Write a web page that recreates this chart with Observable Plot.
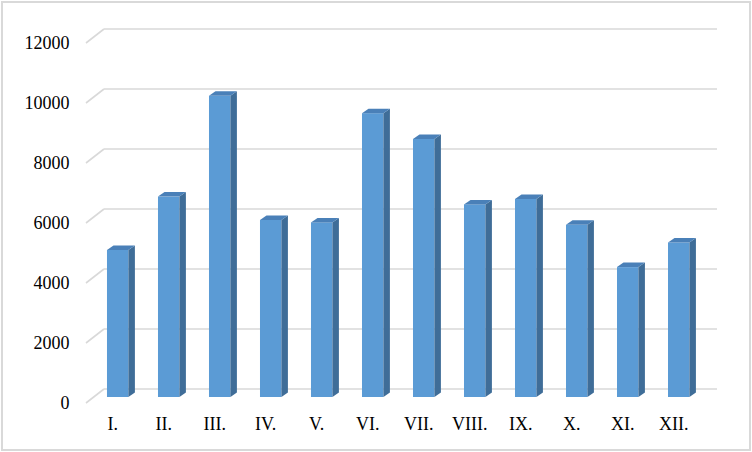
<!DOCTYPE html>
<html><head><meta charset="utf-8">
<script src="https://cdn.jsdelivr.net/npm/d3@7"></script>
<script src="https://cdn.jsdelivr.net/npm/@observablehq/plot@0.6"></script>
<style>
body{margin:0;background:#fff}
#chart svg{display:block;outline:2px solid #d9d9d9;outline-offset:-3px}
</style>
</head><body><div id="chart"></div>
<script>
const months = ["I.","II.","III.","IV.","V.","VI.","VII.","VIII.","IX.","X.","XI.","XII."];
const values = [4900,6680,10040,5900,5820,9460,8600,6420,6600,5740,4330,5150];
const yTicks = [0,2000,4000,6000,8000,10000,12000];
const data = months.map((m,i)=>({month:m, value:values[i]}));

const W = 752, H = 452;
const ML = 77.4, MR = 33, MT = 37, MB = 55;
// perspective offsets (px)
const backDy = -8;                   // back wall relative to bar front plane
const floorDx = 18, floorDy = 14;    // depth of floor diagonal
const barDx = 6.5, barDy = 4.5;      // bar depth

function grid(index, scales, vals, dims){
  const {x, y} = scales;
  const g = d3.create("svg:g");
  const left = x(months[0]) - 3;
  const right = dims.width - dims.marginRight - 2;
  for (const t of yTicks){
    const yb = y(t) + backDy;
    g.append("line").attr("x1",left).attr("x2",right).attr("y1",yb).attr("y2",yb)
      .attr("stroke","#d9d9d9").attr("stroke-width",1.6);
    g.append("line").attr("x1",left-floorDx).attr("y1",yb+floorDy).attr("x2",left).attr("y2",yb)
      .attr("stroke","#d9d9d9").attr("stroke-width",1.6);
  }
  return g.node();
}

function bars3d(index, scales, vals, dims){
  const {x, y} = scales;
  const w = x.bandwidth();
  const g = d3.create("svg:g");
  for (const d of data){
    const xs = x(d.month), yt = y(d.value), yb = y(0);
    g.append("rect").attr("x",xs).attr("y",yt).attr("width",w).attr("height",yb-yt).attr("fill","#5b9bd5");
    g.append("polygon").attr("points",[[xs+w,yt],[xs+w+barDx,yt-barDy],[xs+w+barDx,yb-barDy],[xs+w,yb]].map(p=>p.join(",")).join(" "))
      .attr("fill","#3f6d98");
    g.append("polygon").attr("points",[[xs,yt],[xs+barDx,yt-barDy],[xs+w+barDx,yt-barDy],[xs+w,yt]].map(p=>p.join(",")).join(" "))
      .attr("fill","#4a80b8");
  }
  return g.node();
}

const chart = Plot.plot({
  width: W, height: H,
  marginLeft: ML, marginRight: MR, marginTop: MT, marginBottom: MB,
  style: {fontFamily: "'Liberation Serif','Times New Roman',serif", fontSize: "18px", color: "#000", background: "#fff"},
  x: {type: "band", domain: months, padding: 0.58, round: false},
  y: {type: "linear", domain: [0,12000]},
  marks: [
    grid,
    bars3d,
    Plot.axisY(yTicks, {tickSize:0, tickPadding:8.5, dy:6, tickFormat: d => String(d), label:null, fill:"#000"}),
    Plot.axisX({tickSize:0, tickPadding:20, dx:-5.5, label:null, fill:"#000"})
  ]
});
document.getElementById("chart").appendChild(chart);
</script>
</body></html>
